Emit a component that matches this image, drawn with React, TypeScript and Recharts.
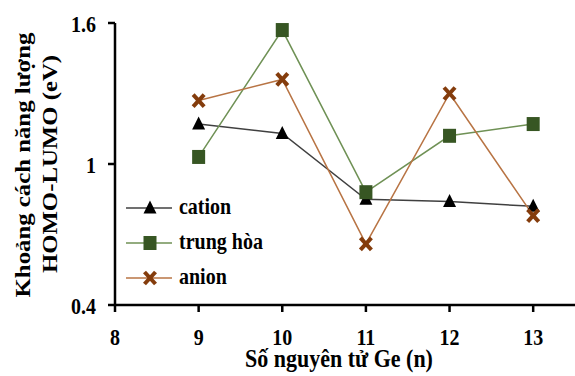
import React from 'react';
import { LineChart, Line, XAxis, YAxis, Legend } from 'recharts';

const atoms = [9, 10, 11, 12, 13];
const cation = [1.17, 1.13, 0.85, 0.84, 0.82];
const neutral = [1.03, 1.57, 0.88, 1.12, 1.17];
const anion = [1.27, 1.36, 0.66, 1.3, 0.78];
const xTicks = [8, 9, 10, 11, 12, 13];
const yTicks = [0.4, 1, 1.6];

const data = atoms.map((n, i) => ({ n, cation: cation[i], neutral: neutral[i], anion: anion[i] }));

const FONT = 'Liberation Serif, Times New Roman, serif';
const boldStyle = (size: number) => ({ fontFamily: FONT, fontWeight: 'bold' as const, fontSize: size });

const Tri = ({ cx, cy, fill }: any) => (
  <path d={`M${cx},${cy - 7.5} L${cx + 6.5},${cy + 5.5} L${cx - 6.5},${cy + 5.5} Z`} fill={fill} />
);
const Sq = ({ cx, cy, fill }: any) => (
  <rect x={cx - 6.5} y={cy - 7} width={13} height={14} fill={fill} />
);
const Cross = ({ cx, cy, fill }: any) => (
  <g stroke={fill} strokeWidth={4} strokeLinecap="butt">
    <line x1={cx - 5.5} y1={cy - 6} x2={cx + 5.5} y2={cy + 6} />
    <line x1={cx - 5.5} y1={cy + 6} x2={cx + 5.5} y2={cy - 6} />
  </g>
);

const series = [
  { key: 'cation', name: 'cation', line: '#404040', mark: '#000000', Shape: Tri },
  { key: 'neutral', name: 'trung hòa', line: '#6f9155', mark: '#375623', Shape: Sq },
  { key: 'anion', name: 'anion', line: '#b87444', mark: '#843c0c', Shape: Cross },
];

const LegendContent = () => (
  <svg width={170} height={110} style={{ display: 'block' }}>
    {series.map((s, i) => {
      const y = 14 + i * 35;
      const S = s.Shape;
      return (
        <g key={s.key}>
          <line x1={6} y1={y} x2={52} y2={y} stroke={s.line} strokeWidth={1.5} />
          <S cx={30} cy={y} fill={s.mark} />
          <text transform={`translate(59 ${y + 6}) scale(1 1.15)`} style={boldStyle(20)} fill="#000">
            {s.name}
          </text>
        </g>
      );
    })}
  </svg>
);

const YLabel = () => (
  <g style={boldStyle(20)} fill="#000">
    <text transform="translate(30 165) rotate(-90) scale(1.24 1)" textAnchor="middle">Khoảng cách năng lượng</text>
    <text transform="translate(57 164) rotate(-90) scale(1.24 1)" textAnchor="middle">HOMO-LUMO (eV)</text>
  </g>
);

const XLabel = () => (
  <text transform="translate(339 367) scale(1 1.1)" textAnchor="middle" style={boldStyle(22)} fill="#000">
    Số nguyên tử Ge (n)
  </text>
);

const XTick = ({ x, payload }: any) => (
  <text transform={`translate(${x} 345) scale(1 1.15)`} textAnchor="middle" style={boldStyle(20)} fill="#000">
    {payload.value}
  </text>
);

const YTick = ({ y, payload }: any) => (
  <text transform={`translate(96 ${y + 9}) scale(1 1.2)`} textAnchor="end" style={boldStyle(20)} fill="#000">
    {payload.value}
  </text>
);

export default function App() {
  return (
    <div style={{ position: 'absolute', left: 0, top: 0, width: 575, height: 376, background: '#fff' }}>
      <LineChart width={575} height={376} data={data} margin={{ top: 23, right: 0, bottom: 11, left: 0 }}>
        <XAxis
          dataKey="n"
          type="number"
          domain={[8, 13.5]}
          ticks={xTicks}
          tick={<XTick />}
          tickSize={7}
          axisLine={{ stroke: '#000', strokeWidth: 2.5 }}
          tickLine={{ stroke: '#000', strokeWidth: 2.5 }}
          height={60}
          label={<XLabel />}
        />
        <YAxis
          type="number"
          domain={[0.4, 1.6]}
          ticks={yTicks}
          tick={<YTick />}
          tickSize={7}
          axisLine={{ stroke: '#000', strokeWidth: 2.5 }}
          tickLine={{ stroke: '#000', strokeWidth: 2.5 }}
          width={115}
          label={<YLabel />}
        />
        <Legend
          layout="horizontal"
          verticalAlign="middle"
          align="center"
          wrapperStyle={{ position: 'absolute', left: 120, top: 194, width: 170 }}
          content={<LegendContent />}
        />
        {series.map((s) => (
          <Line
            key={s.key}
            dataKey={s.key}
            name={s.name}
            stroke={s.line}
            strokeWidth={1.5}
            dot={(p: any) => <s.Shape key={`${s.key}-${p.index}`} cx={p.cx} cy={p.cy} fill={s.mark} />}
            activeDot={false}
            isAnimationActive={false}
          />
        ))}
      </LineChart>
    </div>
  );
}
